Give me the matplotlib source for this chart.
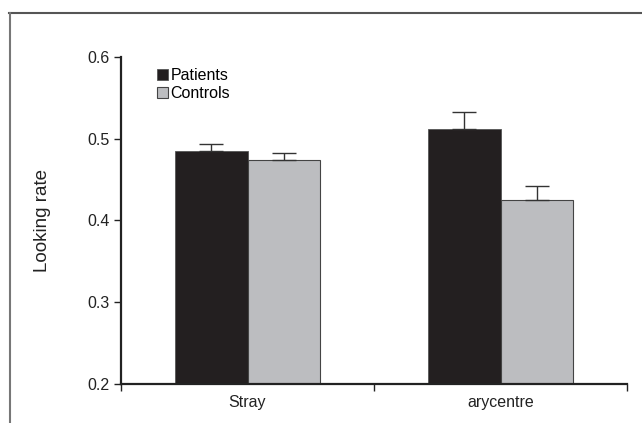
import matplotlib.pyplot as plt
from matplotlib.lines import Line2D

plt.rcParams['font.family'] = ['Liberation Sans', 'DejaVu Sans']

categories = ['Stray', 'arycentre']
patients = [0.485, 0.512]
controls = [0.474, 0.425]
patients_err = [0.008, 0.021]
controls_err = [0.008, 0.017]

fig = plt.figure(figsize=(6.42, 4.23), dpi=100)
ax = fig.add_axes([121 / 642, 1 - 384 / 423, 506 / 642, 327 / 423])

w = 0.288
xs = range(len(categories))
ax.bar([x - w / 2 for x in xs], patients, w, bottom=0,
       color='#231f20', edgecolor='#555555', linewidth=0.6, label='Patients',
       yerr=[[0] * len(patients), patients_err], capsize=8.5,
       error_kw=dict(ecolor='#333333', elinewidth=1, capthick=1))
ax.bar([x + w / 2 for x in xs], controls, w,
       color='#bcbdc0', edgecolor='#444444', linewidth=0.8, label='Controls',
       yerr=[[0] * len(controls), controls_err], capsize=8.5,
       error_kw=dict(ecolor='#333333', elinewidth=1, capthick=1))

ax.set_ylim(0.2, 0.6)
ax.set_xlim(-0.5, 1.5)
ax.set_yticks([0.2, 0.3, 0.4, 0.5, 0.6])
ax.set_yticklabels(['0.2', '0.3', '0.4', '0.5', '0.6'], fontsize=11.5, color='#222222')
ax.set_xticks([-0.5, 0.5, 1.5])
ax.set_xticklabels([])
ax.set_xticks(list(xs), minor=True)
ax.set_xticklabels(categories, minor=True, fontsize=11.5, color='#222222')
ax.tick_params(axis='x', which='minor', length=0, pad=8)
ax.tick_params(axis='x', which='major', length=5, width=1, color='#222222')
ax.tick_params(axis='y', length=5, width=1, color='#222222', pad=3)
ax.set_ylabel('Looking rate', fontsize=13.5, color='#222222', labelpad=26)

for s in ['top', 'right']:
    ax.spines[s].set_visible(False)
for s in ['left', 'bottom']:
    ax.spines[s].set_linewidth(1.6)
    ax.spines[s].set_color('#222222')

leg = ax.legend(loc='upper left', bbox_to_anchor=(0.058, 0.985), frameon=False,
                fontsize=11.5, handlelength=0.7, handleheight=0.7,
                handletextpad=0.15, labelspacing=0.15, borderaxespad=0)

# outer frame (top and left only)
fig.add_artist(Line2D([9 / 642, 1], [1 - 13 / 423] * 2, color='#555555', lw=1.5))
fig.add_artist(Line2D([10 / 642] * 2, [0, 1 - 13 / 423], color='#777777', lw=1.5))

fig.savefig('out.png', dpi=100)
